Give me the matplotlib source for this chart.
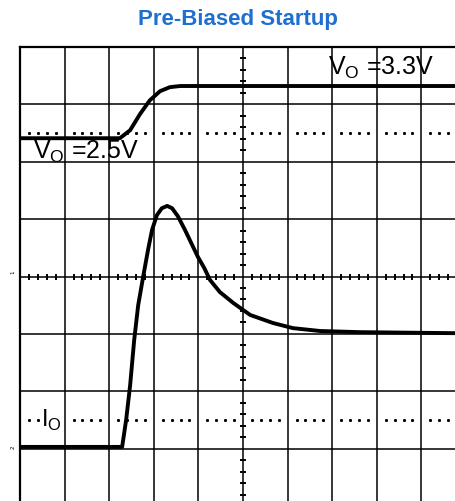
import matplotlib.pyplot as plt


# ------------------------------------
# Scope data (in screen divisions)
# ------------------------------------
vo_t = [0.0, 2.24, 2.47, 2.69, 2.91, 3.14, 3.36, 3.59, 10.0]
vo_y = [6.41, 6.41, 6.55, 6.83, 7.07, 7.23, 7.30, 7.32, 7.32]

io_t = [0.0, 2.29, 2.38, 2.47, 2.56, 2.65, 2.76, 2.87, 2.96, 3.07, 3.18,
        3.30, 3.41, 3.54, 3.70, 3.86, 3.99, 4.13, 4.26, 4.48, 4.78, 5.16,
        5.67, 6.12, 6.73, 7.62, 10.0]
io_y = [1.03, 1.03, 1.50, 2.11, 2.89, 3.50, 3.99, 4.46, 4.81, 5.07, 5.19,
        5.23, 5.19, 5.05, 4.81, 4.55, 4.34, 4.15, 3.94, 3.73, 3.54, 3.33,
        3.19, 3.10, 3.05, 3.03, 3.01]

dotted_levels = [6.5, 1.5]
n_xdiv = 10
n_ydiv = 8


# ------------------------------------
# Figure / scope screen
# ------------------------------------
fig = plt.figure(figsize=(4.56, 5.01), dpi=100)

ax = fig.add_axes([20 / 456, (501 - 506) / 501, 446 / 456, 459 / 501])
ax.set_xlim(0, n_xdiv)
ax.set_ylim(0, n_ydiv)
ax.set_xticks([])
ax.set_yticks([])
for s in ax.spines.values():
    s.set_linewidth(1.6)
    s.set_color("black")

# grid
for i in range(1, n_xdiv):
    ax.axvline(i, color="black", lw=1.1)
for j in range(1, n_ydiv):
    ax.axhline(j, color="black", lw=1.1)

# minor ticks on the center cross
minor_x = [k / 5 for k in range(n_xdiv * 5 + 1) if k % 5]
minor_y = [k / 5 for k in range(n_ydiv * 5 + 1) if k % 5]
ax.plot(minor_x, [4] * len(minor_x), ls="none", marker="|", ms=4,
        mew=1.4, color="black")
ax.plot([5] * len(minor_y), minor_y, ls="none", marker="_", ms=4,
        mew=1.4, color="black")

# dotted reference levels
for lvl in dotted_levels:
    ax.plot(minor_x, [lvl] * len(minor_x), ls="none", marker="s", ms=1.1,
            color="black")

# traces
ax.plot(vo_t, vo_y, color="black", lw=2.8, solid_joinstyle="round")
ax.plot(io_t, io_y, color="black", lw=2.8, solid_joinstyle="round")

# labels
ax.text(6.9, 7.52, "V$_\\mathregular{O}$ =3.3V", fontsize=18,
        family="Liberation Sans", color="black")
ax.text(0.3, 6.06, "V$_\\mathregular{O}$ =2.5V", fontsize=18,
        family="Liberation Sans", color="black")
ax.text(0.48, 1.38, "I$_\\mathregular{O}$", fontsize=17,
        family="Liberation Sans", color="black",
        bbox=dict(facecolor="white", edgecolor="none", pad=0.3))

# channel markers
ax.text(-0.15, 4.05, "1", fontsize=4, rotation=90, ha="center",
        va="bottom", clip_on=False)
ax.text(-0.15, 1.0, "2", fontsize=4, rotation=90, ha="center",
        va="bottom", clip_on=False)

fig.text(238 / 456, 1 - 19 / 501, "Pre-Biased Startup", ha="center",
         va="center", fontsize=16, fontweight="bold", color="#1f6fd1",
         family="Liberation Sans")

plt.savefig("out.png", dpi=100)
